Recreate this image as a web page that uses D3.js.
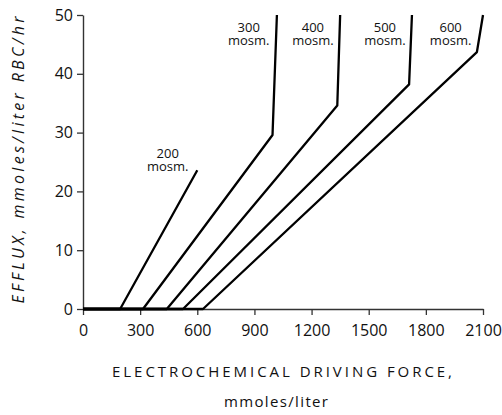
<!DOCTYPE html>
<html><head><meta charset="utf-8">
<script src="https://cdn.jsdelivr.net/npm/d3@7"></script>
<style>
body{margin:0;background:#fff;}
svg{display:block;}
text{fill:#111;}
</style></head>
<body>
<script>
// Data (x: electrochemical driving force, mmoles/liter; y: efflux)
const osmLabels = ["200", "300", "400", "500", "600"];
const line200 = [[0, 0], [195, 0], [600, 23.6]];
const line300 = [[0, 0], [315, 0], [995, 29.6], [1018, 50]];
const line400 = [[0, 0], [440, 0], [1335, 34.6], [1350, 50]];
const line500 = [[0, 0], [525, 0], [1712, 38.2], [1727, 50]];
const line600 = [[0, 0], [630, 0], [2068, 43.7], [2100, 50]];
const xTicks = [0, 300, 600, 900, 1200, 1500, 1800, 2100];
const yTicks = [0, 10, 20, 30, 40, 50];
const labelPos = [[445, 25.7], [870, 47.1], [1207, 47.1], [1585, 47.1], [1930, 47.1]];

const W = 502, H = 415;
const svg = d3.select("body").append("svg").attr("width", W).attr("height", H);
const x = d3.scaleLinear().domain([0, 2100]).range([83, 483]);
const y = d3.scaleLinear().domain([0, 50]).range([309, 15]);
const font = "'Open Sans', 'Liberation Sans', sans-serif";

const xAxis = svg.append("g").attr("transform", `translate(0,${y(0)})`)
  .call(d3.axisBottom(x).tickValues(xTicks).tickFormat(d3.format("d")).tickSize(6).tickSizeOuter(0).tickPadding(10));
const yAxis = svg.append("g").attr("transform", `translate(${x(0)},0)`)
  .call(d3.axisLeft(y).tickValues(yTicks).tickFormat(d3.format("d")).tickSize(6).tickSizeOuter(0).tickPadding(4));
[xAxis, yAxis].forEach(g => {
  g.selectAll("path.domain").attr("stroke", "#333").attr("stroke-width", 1.4);
  g.selectAll(".tick line").attr("stroke", "#333").attr("stroke-width", 1.3);
  g.selectAll(".tick text").attr("font-family", font).attr("font-size", 16).attr("fill", "#111");
});

const lineGen = d3.line().x(d => x(d[0])).y(d => y(d[1]));
[line200, line300, line400, line500, line600].forEach(s => {
  svg.append("path").datum(s).attr("d", lineGen)
    .attr("fill", "none").attr("stroke", "#000").attr("stroke-width", 2.3)
    .attr("stroke-linejoin", "round");
});

osmLabels.forEach((lab, i) => {
  const [lx, ly] = labelPos[i];
  svg.append("text").attr("text-anchor", "middle")
    .attr("font-family", font).attr("font-size", 13)
    .attr("x", x(lx)).attr("y", y(ly)).text(lab);
  svg.append("text").attr("text-anchor", "middle")
    .attr("font-family", font).attr("font-size", 13)
    .attr("x", x(lx)).attr("y", y(ly) + 13).text("mosm.");
});

svg.append("text").attr("text-anchor", "middle")
  .attr("font-family", font).attr("font-size", 15)
  .attr("textLength", 340).attr("lengthAdjust", "spacing")
  .attr("x", 282).attr("y", 377).text("ELECTROCHEMICAL DRIVING FORCE,");
svg.append("text").attr("text-anchor", "middle")
  .attr("font-family", font).attr("font-size", 15)
  .attr("textLength", 104).attr("lengthAdjust", "spacing")
  .attr("x", 276).attr("y", 407).text("mmoles/liter");
svg.append("text").attr("text-anchor", "middle")
  .attr("font-family", font).attr("font-size", 16).attr("font-style", "italic")
  .attr("textLength", 287).attr("lengthAdjust", "spacing")
  .attr("transform", "translate(24,160) rotate(-90)").text("EFFLUX, mmoles/liter RBC/hr");
</script>
</body></html>
